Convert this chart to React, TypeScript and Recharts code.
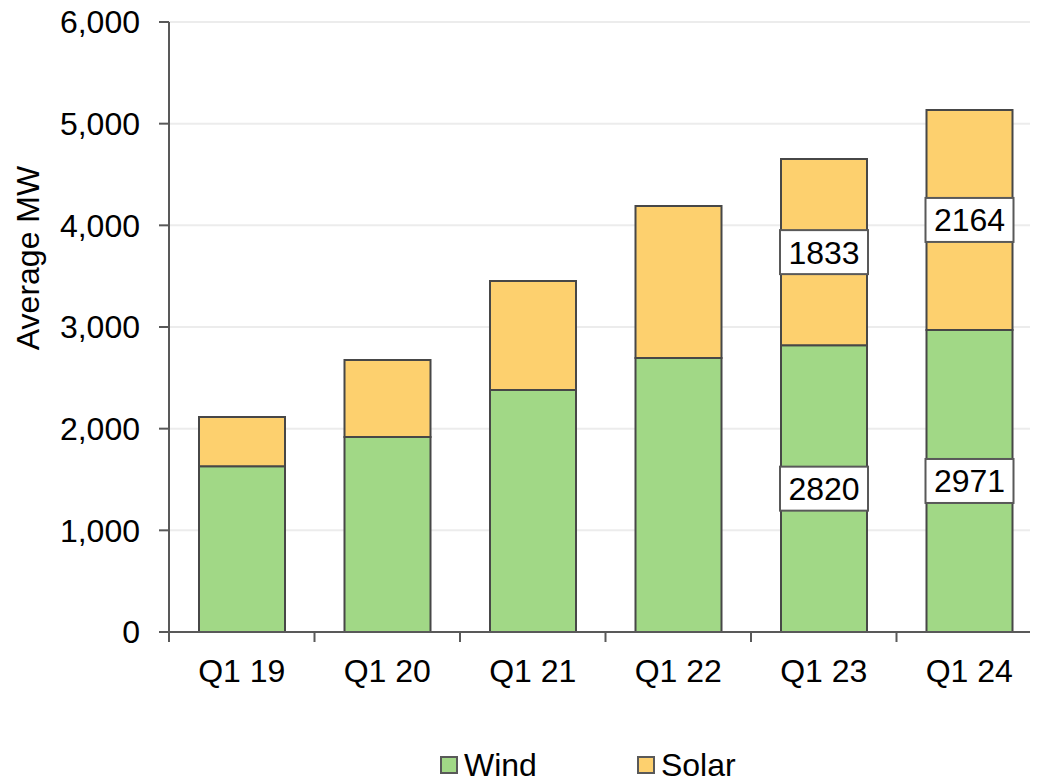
import React from "react";
import {
  BarChart,
  Bar,
  XAxis,
  YAxis,
  CartesianGrid,
  LabelList,
  Label,
} from "recharts";

const quarters = ["Q1 19", "Q1 20", "Q1 21", "Q1 22", "Q1 23", "Q1 24"];
const wind = [1630, 1918, 2380, 2695, 2820, 2971];
const solar = [485, 757, 1072, 1495, 1833, 2164];
const labelled = [false, false, false, false, true, true];
const yTicks = [0, 1000, 2000, 3000, 4000, 5000, 6000];
const legendItems = ["Wind", "Solar"];

const data = quarters.map((q, i) => ({
  quarter: q,
  wind: wind[i],
  solar: solar[i],
}));

const FONT = "'Liberation Sans', Arial, sans-serif";
const FS = 32;
const WIND = "#a1d886";
const SOLAR = "#fdd06e";
const EDGE = "#474747";
const AXIS = "#595959";

const CHART_W = 1060;
const MARGIN = { top: 22, right: 18, left: 0, bottom: 92 };
const Y_AXIS_W = 169;
const BAND = (CHART_W - MARGIN.left - MARGIN.right - Y_AXIS_W) / quarters.length;

function ValueBox(props: any) {
  const { x, y, width, height, value, index } = props;
  if (!labelled[index]) return null;
  const cx = x + width / 2;
  const cy = y + height / 2;
  return (
    <g>
      <rect
        x={cx - 44}
        y={cy - 22}
        width={88}
        height={44}
        fill="#ffffff"
        stroke={AXIS}
        strokeWidth={2}
      />
      <text
        x={cx}
        y={cy}
        dy="0.36em"
        textAnchor="middle"
        fontSize={FS}
        fontFamily={FONT}
        fill="#000"
      >
        {value}
      </text>
    </g>
  );
}

function QuarterTick(props: any) {
  const { x, y, payload, index } = props;
  const top = y - 27;
  return (
    <g>
      <line x1={x - BAND / 2} x2={x - BAND / 2} y1={top} y2={top + 10} stroke={AXIS} strokeWidth={2} />
      {index === quarters.length - 1 && (
        <line x1={x + BAND / 2} x2={x + BAND / 2} y1={top} y2={top + 10} stroke={AXIS} strokeWidth={2} />
      )}
      <text x={x} y={y} dy="0.71em" textAnchor="middle" fontSize={FS} fontFamily={FONT} fill="#000">
        {payload.value}
      </text>
    </g>
  );
}

function LegendBox() {
  const colors = [WIND, SOLAR];
  return (
    <div
      style={{
        position: "absolute",
        left: 440,
        top: 750,
        display: "flex",
        alignItems: "center",
        fontFamily: FONT,
        fontSize: FS,
        lineHeight: "30px",
        height: 30,
      }}
    >
      {legendItems.map((name, i) => (
        <div key={name} style={{ display: "flex", alignItems: "center", marginLeft: i === 0 ? 0 : 100 }}>
          <span
            style={{
              width: 14,
              height: 14,
              background: colors[i],
              border: `2px solid ${AXIS}`,
              marginRight: 6,
            }}
          />
          <span style={{ color: "#000" }}>{name}</span>
        </div>
      ))}
    </div>
  );
}

export default function App() {
  return (
    <div style={{ margin: -8, width: 1038, height: 784, overflow: "hidden", position: "relative", background: "#fff" }}>
      <BarChart width={CHART_W} height={784} data={data} margin={MARGIN} barSize={86}>
        <CartesianGrid vertical={false} stroke="#ececec" strokeWidth={2} />
        <XAxis
          dataKey="quarter"
          tickLine={false}
          axisLine={{ stroke: AXIS, strokeWidth: 2 }}
          tickSize={10}
          tickMargin={17}
          height={60}
          interval={0}
          tick={<QuarterTick />}
        />
        <YAxis
          width={Y_AXIS_W}
          domain={[0, 6000]}
          ticks={yTicks}
          interval={0}
          tickSize={10}
          tickMargin={19}
          axisLine={{ stroke: AXIS, strokeWidth: 2 }}
          tickLine={{ stroke: AXIS, strokeWidth: 2 }}
          tick={{ fontSize: FS, fill: "#000", fontFamily: FONT }}
          tickFormatter={(v) => Number(v).toLocaleString("en-US")}
        >
          <Label
            content={() => (
              <text
                x={27}
                y={258}
                transform="rotate(-90 27 258)"
                textAnchor="middle"
                dy="0.36em"
                fontSize={FS}
                fontFamily={FONT}
                fill="#000"
              >
                Average MW
              </text>
            )}
          />
        </YAxis>
        <Bar dataKey="wind" name="Wind" stackId="a" fill={WIND} stroke={EDGE} strokeWidth={2} isAnimationActive={false}>
          <LabelList dataKey="wind" content={<ValueBox />} />
        </Bar>
        <Bar dataKey="solar" name="Solar" stackId="a" fill={SOLAR} stroke={EDGE} strokeWidth={2} isAnimationActive={false}>
          <LabelList dataKey="solar" content={<ValueBox />} />
        </Bar>
      </BarChart>
      <LegendBox />
    </div>
  );
}
